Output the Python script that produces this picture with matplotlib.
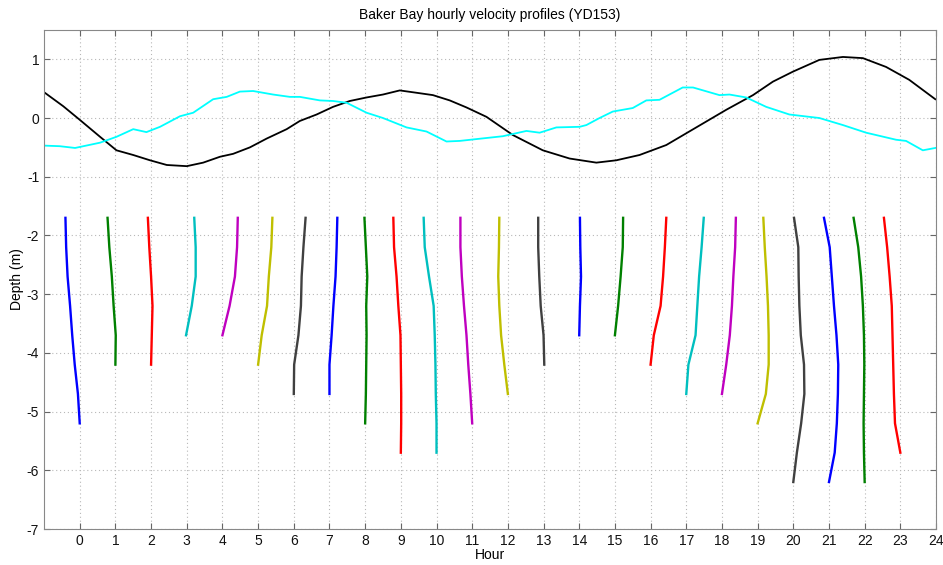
import numpy as np
import matplotlib.pyplot as plt

plt.rcParams['font.family'] = ['Liberation Sans', 'DejaVu Sans']
plt.rcParams['axes.unicode_minus'] = False

# time series (hour, value)
t_black = [-1.0, -0.46, 0.0, 0.57, 1.03, 1.5, 1.97, 2.44, 3.0, 3.46, 3.93, 4.3, 4.77, 5.24, 5.8,
           6.17, 6.64, 7.1, 7.57, 8.04, 8.5, 8.97, 9.44, 9.9, 10.37, 10.84, 11.4, 12.14, 12.98,
           13.73, 14.48, 15.04, 15.69, 16.44, 17.0, 17.56, 18.12, 18.87, 19.43, 19.99, 20.73,
           21.39, 21.95, 22.6, 23.25, 23.98]
v_black = [0.44, 0.20, -0.03, -0.32, -0.55, -0.63, -0.72, -0.80, -0.82, -0.76, -0.66, -0.61,
           -0.50, -0.35, -0.19, -0.05, 0.06, 0.19, 0.29, 0.35, 0.40, 0.47, 0.43, 0.39, 0.30, 0.18,
           0.02, -0.29, -0.55, -0.69, -0.76, -0.72, -0.63, -0.46, -0.26, -0.06, 0.14, 0.39, 0.62,
           0.79, 0.99, 1.04, 1.02, 0.87, 0.65, 0.32]

t_cyan = [-1.0, -0.56, -0.13, 0.57, 1.03, 1.5, 1.87, 2.25, 2.81, 3.18, 3.74, 4.12, 4.49, 4.86,
          5.42, 5.89, 6.17, 6.73, 7.1, 7.48, 8.04, 8.5, 9.16, 9.72, 10.28, 10.65, 11.86, 12.52,
          12.89, 13.36, 14.01, 14.2, 14.57, 14.94, 15.5, 15.88, 16.25, 16.9, 17.19, 17.93, 18.21,
          18.68, 19.24, 19.89, 20.73, 21.39, 22.04, 22.88, 23.16, 23.63, 23.98]
v_cyan = [-0.47, -0.48, -0.51, -0.42, -0.32, -0.19, -0.24, -0.15, 0.03, 0.09, 0.32, 0.36, 0.45,
          0.46, 0.40, 0.36, 0.36, 0.30, 0.29, 0.26, 0.09, 0.0, -0.16, -0.23, -0.40, -0.39, -0.31,
          -0.22, -0.25, -0.16, -0.15, -0.12, 0.0, 0.11, 0.17, 0.30, 0.31, 0.52, 0.52, 0.39, 0.40,
          0.35, 0.19, 0.06, 0.0, -0.12, -0.25, -0.37, -0.39, -0.55, -0.51]

# profile depths (m), from top bin downward
depths = [-1.7, -2.2, -2.7, -3.2, -3.7, -4.2, -4.7, -5.2, -5.7, -6.2]

# horizontal offsets of each hourly profile (hour units), top bin first
profiles = [
    [-0.40, -0.38, -0.34, -0.27, -0.21, -0.14, -0.05, 0.0],
    [-0.22, -0.17, -0.10, -0.05, 0.01, 0.0],
    [-0.09, -0.05, 0.0, 0.04, 0.02, 0.0],
    [0.21, 0.25, 0.25, 0.14, -0.02],
    [0.43, 0.41, 0.35, 0.20, 0.0],
    [0.40, 0.37, 0.30, 0.25, 0.10, 0.0],
    [0.33, 0.27, 0.22, 0.20, 0.13, 0.01, 0.0],
    [0.22, 0.20, 0.17, 0.11, 0.06, 0.0, 0.0],
    [-0.02, 0.02, 0.06, 0.03, 0.04, 0.03, 0.02, 0.0],
    [-0.21, -0.19, -0.12, -0.07, -0.01, 0.0, 0.01, 0.01, 0.0],
    [-0.36, -0.33, -0.21, -0.08, -0.05, -0.03, -0.02, 0.0, 0.0],
    [-0.33, -0.33, -0.29, -0.23, -0.16, -0.11, -0.05, 0.0],
    [-0.24, -0.25, -0.27, -0.24, -0.19, -0.10, 0.0],
    [-0.15, -0.15, -0.12, -0.08, 0.0, 0.02],
    [0.02, 0.03, 0.05, 0.02, 0.0],
    [0.23, 0.22, 0.16, 0.09, 0.0],
    [0.44, 0.40, 0.35, 0.28, 0.09, 0.0],
    [0.49, 0.43, 0.36, 0.31, 0.26, 0.06, 0.0],
    [0.39, 0.37, 0.32, 0.28, 0.22, 0.12, 0.0],
    [0.16, 0.20, 0.25, 0.29, 0.31, 0.31, 0.23, 0.0],
    [0.02, 0.14, 0.15, 0.17, 0.21, 0.30, 0.31, 0.22, 0.10, 0.0],
    [-0.14, 0.02, 0.08, 0.14, 0.21, 0.26, 0.25, 0.22, 0.16, 0.0],
    [-0.31, -0.18, -0.10, -0.05, -0.02, -0.01, -0.02, -0.03, -0.02, 0.0],
    [-0.46, -0.37, -0.30, -0.24, -0.22, -0.20, -0.18, -0.15, 0.0],
]

# old matlab colour order
colors = [(0, 0, 1), (0, 0.5, 0), (1, 0, 0), (0, 0.75, 0.75),
          (0.75, 0, 0.75), (0.75, 0.75, 0), (0.25, 0.25, 0.25)]

fig = plt.figure(figsize=(9.43, 5.65), dpi=100)
ax = fig.add_axes([0.0467, 0.0637, 0.9459, 0.8833])

ax.plot(t_black, v_black, color='k', lw=1.3)
ax.plot(t_cyan, v_cyan, color='cyan', lw=1.3)

for h, p in enumerate(profiles):
    d = depths[:len(p)]
    ax.plot(h + np.array(p), d, color=colors[h % 7], lw=1.7)

ax.set_xlim(-1, 24)
ax.set_ylim(-7, 1.5)
ax.set_xticks(range(0, 25))
ax.set_yticks(range(-7, 2))
ax.grid(True, linestyle=(0, (1, 2.5)), color='#b8b8b8', lw=0.8)
ax.tick_params(direction='in', top=True, right=True, labelsize=10, length=4,
               colors='#666666', labelcolor='#111111')
for s in ax.spines.values():
    s.set_color('#888888')
ax.set_xlabel('Hour', fontsize=10, labelpad=0)
ax.set_ylabel('Depth (m)', fontsize=10, labelpad=2)
ax.set_title('Baker Bay hourly velocity profiles (YD153)', fontsize=10, pad=8)

fig.savefig('out.png', dpi=100)
